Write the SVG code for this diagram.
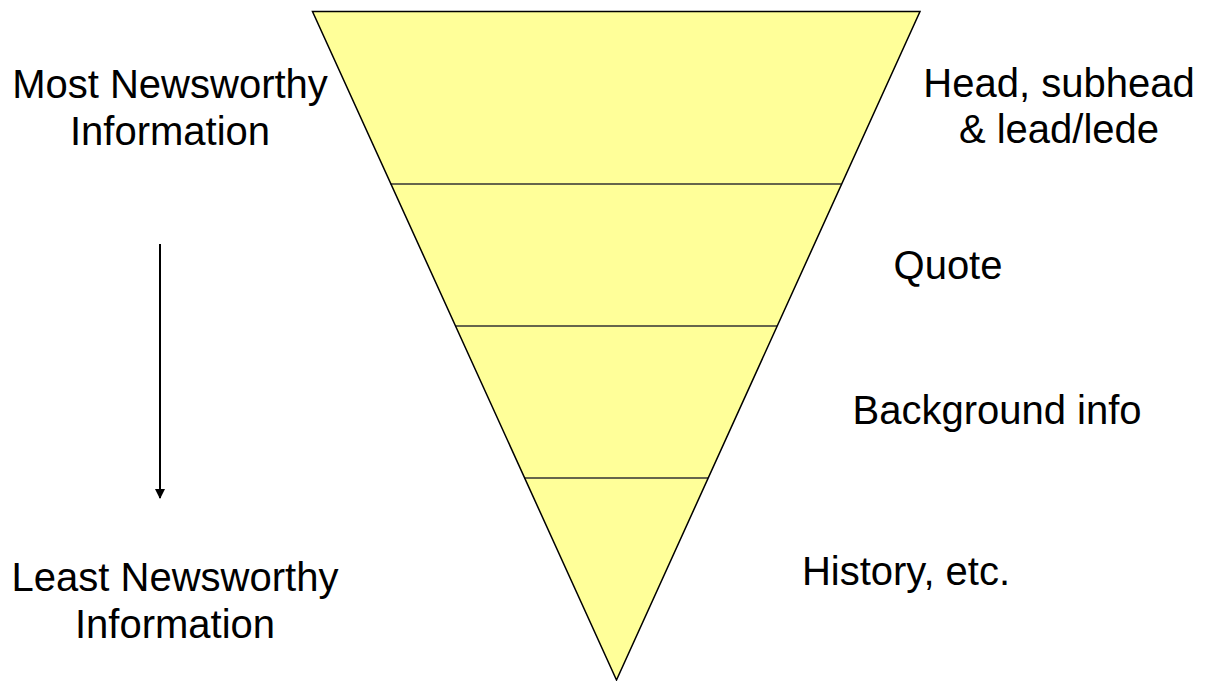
<svg xmlns="http://www.w3.org/2000/svg" width="1208" height="681" viewBox="0 0 1208 681">
<defs>
<style>
.lbl{font-family:"Liberation Sans",Arial,sans-serif;font-size:40px;fill:#000;text-anchor:middle}
.band{fill:#FFFF99;stroke:none}
.div{stroke:#333;stroke-width:1.5;fill:none}
.edge{stroke:#000;stroke-width:1.5;fill:none;stroke-linejoin:miter}
</style>
<marker id="ah" viewBox="0 0 10 10" refX="9" refY="5" markerWidth="5" markerHeight="5" orient="auto" markerUnits="strokeWidth">
<path d="M0,0 L10,5 L0,10 z" fill="#000"/>
</marker>
</defs>
<rect width="1208" height="681" fill="#fff"/>
<g id="pyramid">
<polygon class="band" points="312.5,11.5 920,11.5 616.5,680"/>
<line class="div" x1="390.5" y1="184" x2="841.5" y2="184"/>
<line class="div" x1="455" y1="326" x2="777" y2="326"/>
<line class="div" x1="524" y1="478" x2="708" y2="478"/>
<polygon class="edge" points="312.5,11.5 920,11.5 616.5,680"/>
</g>
<g id="connectors">
<line x1="160" y1="244" x2="160" y2="498" stroke="#000" stroke-width="2" marker-end="url(#ah)"/>
</g>
<g id="most">
<text class="lbl" x="170" y="98">Most Newsworthy</text>
<text class="lbl" x="170" y="145">Information</text>
</g>
<g id="least">
<text class="lbl" x="175" y="591">Least Newsworthy</text>
<text class="lbl" x="175" y="638">Information</text>
</g>
<g id="head">
<text class="lbl" x="1059" y="97">Head, subhead</text>
<text class="lbl" x="1059" y="143">&amp; lead/lede</text>
</g>
<g id="quote"><text class="lbl" x="948" y="279">Quote</text></g>
<g id="background"><text class="lbl" x="997" y="424">Background info</text></g>
<g id="history"><text class="lbl" x="906" y="585">History, etc.</text></g>
</svg>
